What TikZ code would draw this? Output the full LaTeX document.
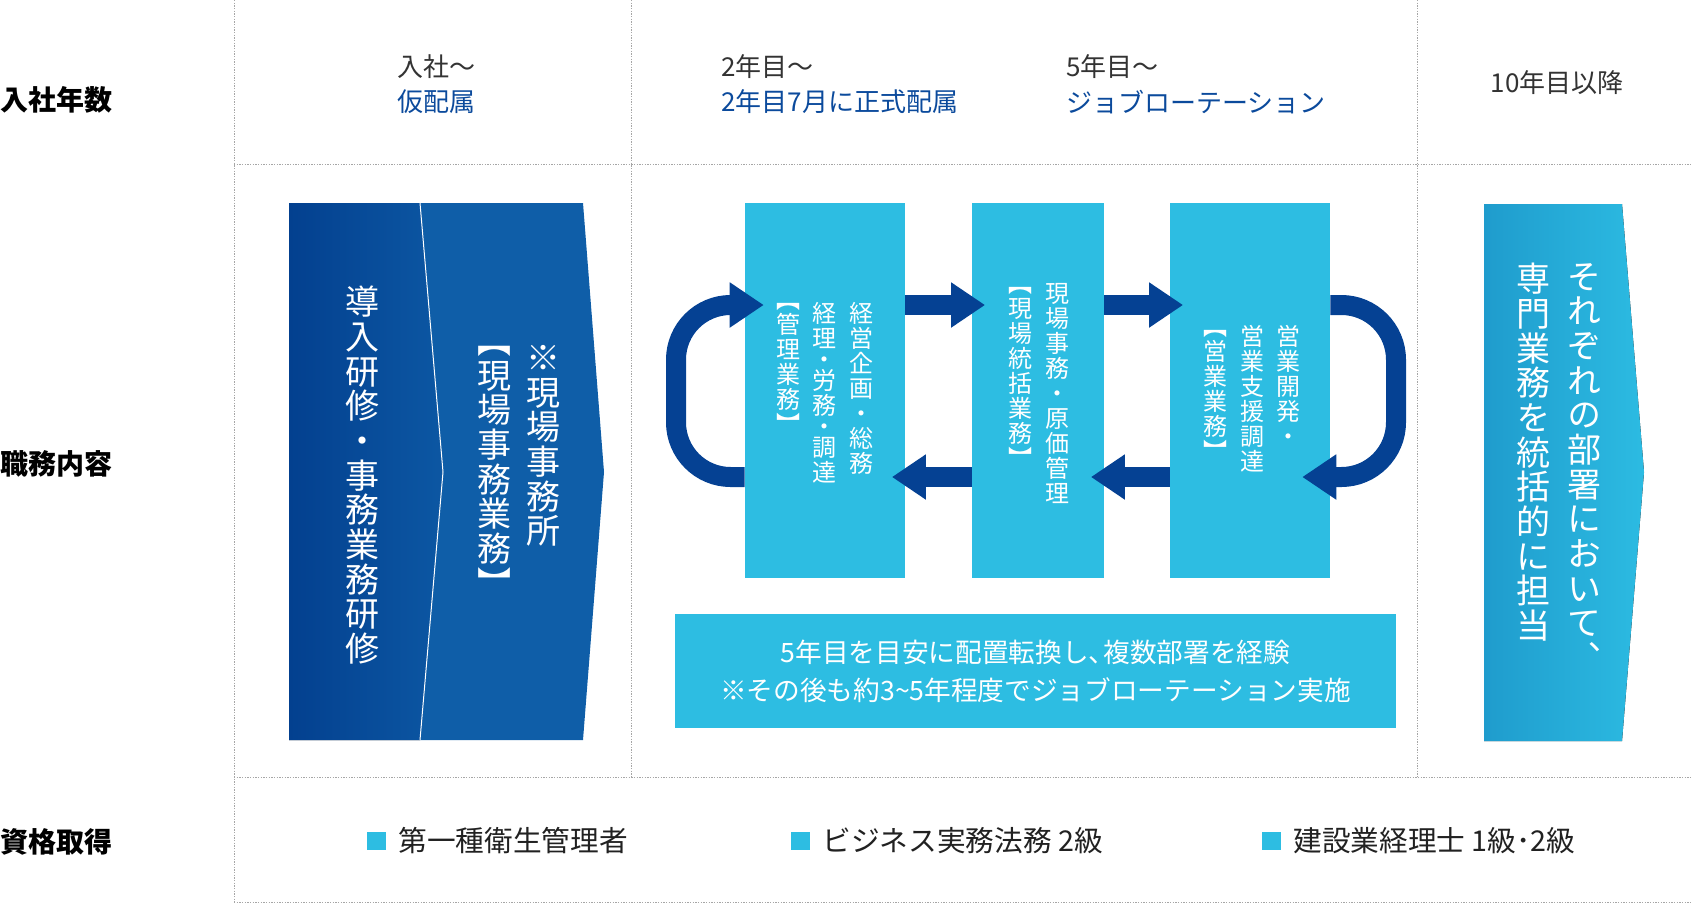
\documentclass[tikz,border=0pt]{standalone}
\usepackage{fontspec}
\setmainfont{Noto Sans CJK JP}
\newfontfamily\vjp[RawFeature={+vert}]{Noto Sans CJK JP}
\usetikzlibrary{arrows.meta, positioning}
\lineskiplimit=-30pt

\definecolor{navy}{HTML}{054193}
\definecolor{skyblue}{HTML}{2DBDE2}
\definecolor{deepblue}{HTML}{0B4A9C}
\definecolor{chevAl}{HTML}{03408F}
\definecolor{chevAr}{HTML}{0C57A3}
\definecolor{chevB}{HTML}{0F5EA8}
\definecolor{chevCl}{HTML}{1F9CCD}
\definecolor{chevCr}{HTML}{2CBBE2}
\definecolor{darktext}{HTML}{333333}

\tikzset{
  gridline/.style={draw=black!35, line width=0.75pt, dash pattern=on 1pt off 1pt},
  rowlabel/.style={anchor=west, inner sep=0pt, text=black, font=\bfseries\fontsize{21}{24}\selectfont},
  yearhead/.style={anchor=west, inner sep=0pt, text=darktext, font=\fontsize{19.5}{22}\selectfont},
  yearsub/.style={yearhead, text=deepblue},
  jobbox/.style={fill=skyblue, inner sep=0pt, minimum height=281.25pt},
  vcol/.style={anchor=north, inner sep=0pt, align=center, text=white, font=\vjp\fontsize{18}{18.8}\selectfont},
  vbig/.style={vcol, font=\vjp\fontsize{25.5}{26}\selectfont},
  shiftarrow/.style={draw=navy, line width=15pt, -{Triangle[length=25.5pt, width=32.25pt]}, shorten >=-10pt},
  turnarrow/.style={shiftarrow, rounded corners=41pt},
  bullet/.style={fill=skyblue, inner sep=0pt, minimum width=14.25pt, minimum height=13.5pt},
  cert/.style={inner sep=0pt, text=black!87, font=\fontsize{21.5}{24}\selectfont},
}

\begin{document}
\begin{tikzpicture}[x=0.75pt, y=-0.75pt]
\useasboundingbox (0,0) rectangle (1692,904);

% table rules
\draw[gridline] (234,0) -- (234,904);
\draw[gridline] (631,0) -- (631,777);
\draw[gridline] (1417,0) -- (1417,777);
\draw[gridline] (234,164) -- (1692,164);
\draw[gridline] (234,777) -- (1692,777);
\draw[gridline] (234,902) -- (1692,902);

% row labels
\node[rowlabel] (lblyear) at (0,100) {入社年数};
\node[rowlabel] (lbljob) at (0,464) {職務内容};
\node[rowlabel] (lblcert) at (0,842) {資格取得};

% year headers
\node[yearhead] (y1) at (397,67) {入社～};
\node[yearsub] (y1sub) at (397,102) {仮配属};
\node[yearhead] (y2) at (721,67) {2年目～};
\node[yearsub] (y2sub) at (721,102) {2年目7月に正式配属};
\node[yearhead] (y5) at (1066,67) {5年目～};
\node[yearsub] (y5sub) at (1066,102) {ジョブローテーション};
\node[yearhead, anchor=center] (y10) at (1557,83) {10年目以降};

% first chevron
\fill[left color=chevAl, right color=chevAr] (289,203) -- (420,203) -- (443,472) -- (420,740) -- (289,740) -- cycle;
\fill[chevB] (420,203) -- (583,203) -- (604,472) -- (583,740) -- (420,740) -- (443,472) -- cycle;
\draw[white, line width=0.75pt] (420,203) -- (443,472) -- (420,740);
\node[vbig] (kenshu) at (362,286) {導\\入\\研\\修\\・\\事\\務\\業\\務\\研\\修};
\node[vbig] (jimusho) at (543,345) {※\\現\\場\\事\\務\\所};
\node[vbig] (jimugyomu) at (494,346) {︻\\現\\場\\事\\務\\業\\務\\︼};

% rotation boxes
\node[jobbox, minimum width=120pt] (kanri) at (825,390.5) {};
\node[jobbox, minimum width=99pt] (genba) at (1038,390.5) {};
\node[jobbox, minimum width=120pt] (eigyo) at (1250,390.5) {};

\node[vcol] (kanri1) at (861,302) {経\\営\\企\\画\\・\\総\\務};
\node[vcol] (kanri2) at (824,302) {経\\理\\[-3pt]・\\[-3pt]労\\務\\[-3pt]・\\[-3pt]調\\達};
\node[vcol] (kanri3) at (788,303) {︻\\管\\理\\業\\務\\︼};
\node[vcol] (genba1) at (1057,283) {現\\場\\事\\務\\・\\原\\価\\管\\理};
\node[vcol] (genba2) at (1020,287) {︻\\現\\場\\統\\括\\業\\務\\︼};
\node[vcol] (eigyo1) at (1288,325) {営\\業\\開\\発\\・};
\node[vcol] (eigyo2) at (1252,325) {営\\業\\支\\援\\調\\達};
\node[vcol] (eigyo3) at (1215,330) {︻\\営\\業\\業\\務\\︼};

% rotation arrows
\coordinate (upper) at (0,305);
\coordinate (lower) at (0,477);
\coordinate (leftturn) at (676,0);
\coordinate (rightturn) at (1396,0);
\draw[shiftarrow] (kanri.east |- upper) -- (genba.west |- upper);
\draw[shiftarrow] (genba.east |- upper) -- (eigyo.west |- upper);
\draw[shiftarrow] (eigyo.west |- lower) -- (genba.east |- lower);
\draw[shiftarrow] (genba.west |- lower) -- (kanri.east |- lower);
\draw[turnarrow, shorten >=-14.25pt] (kanri.west |- lower) -| (leftturn |- upper) -- (kanri.west |- upper);
\draw[turnarrow, shorten >=-21pt] (eigyo.east |- upper) -| (rightturn |- lower) -- (eigyo.east |- lower);

% note under the boxes
\node[fill=skyblue, inner sep=0pt, minimum width=540.75pt, minimum height=85.5pt, align=center,
  text=white, font=\fontsize{20}{28.5}\selectfont] (note) at (1035.5,671)
  {5年目を目安に配置転換し、\kern-0.45em複数部署を経験\\※その後も約3\textasciitilde5年程度でジョブローテーション実施};

% last chevron
\fill[left color=chevCl, right color=chevCr] (1484,204) -- (1622,204) -- (1644,472) -- (1622,741) -- (1484,741) -- cycle;
\node[vbig] (senmon1) at (1584,263) {そ\\れ\\ぞ\\れ\\の\\部\\署\\に\\お\\い\\て\\︑};
\node[vbig] (senmon2) at (1533,263) {専\\門\\業\\務\\を\\統\\括\\的\\に\\担\\当};

% certificates
\node[bullet] (sq1) at (376.5,841) {};
\node[cert, right=9pt of sq1] (cert1) {第一種衛生管理者};
\node[bullet] (sq2) at (800.5,841) {};
\node[cert, right=9pt of sq2] (cert2) {ビジネス実務法務 2級};
\node[bullet] (sq3) at (1271.5,841) {};
\node[cert, right=9pt of sq3] (cert3) {建設業経理士 1級･2級};
\end{tikzpicture}
\end{document}
